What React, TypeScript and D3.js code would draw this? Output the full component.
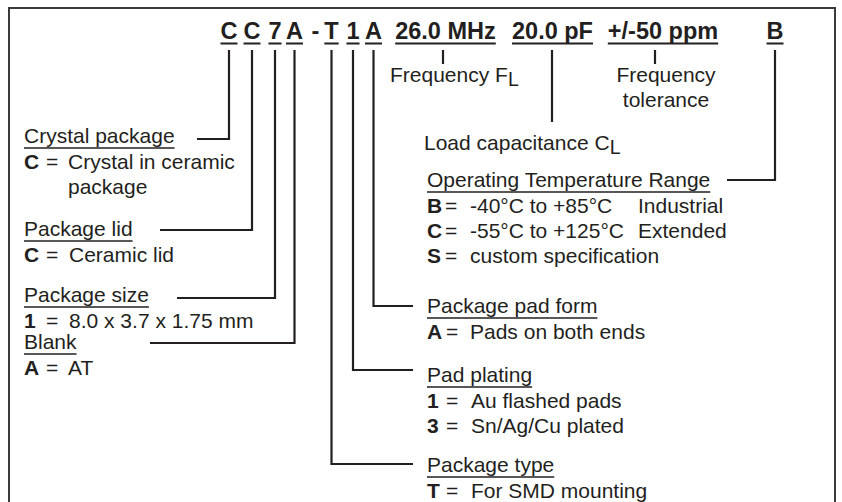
import { useEffect, useRef } from 'react'
import * as d3 from 'd3'

const W = 842, H = 502
const FONT = '"Liberation Sans", Arial, Helvetica, sans-serif'
const INK = '#231f20'
const FS = 21

// part number tokens across the top
const HEADER_CODES = ['C', 'C', '7', 'A', '-', 'T', '1', 'A', '26.0 MHz', '20.0 pF', '+/-50 ppm', 'B']
const HEADER_X = [229, 252, 275, 294.5, 315.5, 331.5, 353, 373.5, 445.5, 552.5, 663, 775]

// fields explained with an underlined title + code rows
const FIELD_TITLES = [
  'Crystal package', 'Package lid', 'Package size', 'Blank',
  'Package pad form', 'Pad plating', 'Package type', 'Operating Temperature Range',
]
const FIELD_ROWS: string[][][] = [
  [['C', 'Crystal in ceramic'], ['', 'package']],
  [['C', 'Ceramic lid']],
  [['1', '8.0 x 3.7 x 1.75 mm']],
  [['A', 'AT']],
  [['A', 'Pads on both ends']],
  [['1', 'Au flashed pads'], ['3', 'Sn/Ag/Cu plated']],
  [['T', 'For SMD mounting']],
  [['B', '-40°C to +85°C', 'Industrial'], ['C', '-55°C to +125°C', 'Extended'], ['S', 'custom specification']],
]
const FIELD_CODE = [0, 1, 2, 3, 7, 6, 5, 11]

// layout of each field block (title baseline, columns, connector elbow)
const FIELD_LAYOUT = [
  { x: 24, y: 143, eq: 46, val: 68, col3: 0, elbowY: 139, endX: 197 },
  { x: 24, y: 236, eq: 46, val: 69, col3: 0, elbowY: 230, endX: 160 },
  { x: 24, y: 302, eq: 46, val: 69, col3: 0, elbowY: 298, endX: 177 },
  { x: 24, y: 349, eq: 46, val: 68, col3: 0, elbowY: 343, endX: 150 },
  { x: 427, y: 313, eq: 446, val: 470, col3: 0, elbowY: 306, endX: 413 },
  { x: 427, y: 382, eq: 446, val: 471, col3: 0, elbowY: 370, endX: 413 },
  { x: 427, y: 472, eq: 446, val: 471, col3: 0, elbowY: 464, endX: 413 },
  { x: 427, y: 187, eq: 445, val: 470, col3: 638, elbowY: 180, endX: 727 },
]

// short pointers for the numeric fields
const POINTER_X = [443, 552, 655]
const POINTER_END = [64, 122, 64]

export default function App() {
  const ref = useRef<SVGSVGElement>(null)

  useEffect(() => {
    const svg = d3.select(ref.current)
    svg.selectAll('*').remove()

    // frame (bottom edge runs off the picture)
    svg.append('path')
      .attr('d', `M9,${H + 5} V8 H835 V${H + 5}`)
      .attr('fill', 'none').attr('stroke', '#3a3a3a').attr('stroke-width', 2)

    const g = svg.append('g').attr('font-family', FONT).attr('fill', INK)

    // header codes with underlines
    HEADER_CODES.forEach((code, i) => {
      const t = g.append('text')
        .attr('x', HEADER_X[i]).attr('y', 39)
        .attr('text-anchor', 'middle')
        .attr('font-size', 23.5).attr('font-weight', 'bold')
        .text(code)
      if (code === '-') return
      const w = (t.node() as SVGTextElement).getComputedTextLength()
      g.append('line')
        .attr('x1', HEADER_X[i] - w / 2).attr('x2', HEADER_X[i] + w / 2)
        .attr('y1', 43.5).attr('y2', 43.5)
        .attr('stroke', INK).attr('stroke-width', 2)
    })

    const lines = svg.append('g').attr('fill', 'none').attr('stroke', INK).attr('stroke-width', 2.2)

    // field blocks + elbow connectors
    FIELD_TITLES.forEach((title, i) => {
      const L = FIELD_LAYOUT[i]
      const t = g.append('text')
        .attr('x', L.x).attr('y', L.y).attr('font-size', FS)
        .text(title)
      const w = (t.node() as SVGTextElement).getComputedTextLength()
      g.append('line')
        .attr('x1', L.x).attr('x2', L.x + w)
        .attr('y1', L.y + 5).attr('y2', L.y + 5)
        .attr('stroke', INK).attr('stroke-width', 1.6)

      FIELD_ROWS[i].forEach((row, r) => {
        const y = L.y + 26 + r * 25
        if (row[0]) {
          g.append('text').attr('x', L.x).attr('y', y)
            .attr('font-size', FS).attr('font-weight', 'bold').text(row[0])
          g.append('text').attr('x', L.eq).attr('y', y)
            .attr('font-size', FS).text('=')
        }
        g.append('text').attr('x', L.val).attr('y', y)
          .attr('font-size', FS).text(row[1])
        if (row[2]) {
          g.append('text').attr('x', L.col3).attr('y', y)
            .attr('font-size', FS).text(row[2])
        }
      })

      const cx = HEADER_X[FIELD_CODE[i]]
      lines.append('path')
        .attr('d', `M${cx},50 V${L.elbowY} H${L.endX}`)
    })

    // short pointers for frequency, load capacitance, tolerance
    POINTER_X.forEach((x, i) => {
      lines.append('line')
        .attr('x1', x).attr('x2', x).attr('y1', 50).attr('y2', POINTER_END[i])
    })

    const freq = g.append('text').attr('x', 390).attr('y', 82).attr('font-size', FS)
    freq.append('tspan').text('Frequency F')
    freq.append('tspan').attr('dy', 4).attr('font-size', 19.5).text('L')

    g.append('text').attr('x', 666).attr('y', 82).attr('font-size', FS)
      .attr('text-anchor', 'middle').text('Frequency')
    g.append('text').attr('x', 666).attr('y', 107).attr('font-size', FS)
      .attr('text-anchor', 'middle').text('tolerance')

    const load = g.append('text').attr('x', 424).attr('y', 150).attr('font-size', FS)
    load.append('tspan').text('Load capacitance C')
    load.append('tspan').attr('dy', 4).attr('font-size', 19.5).text('L')
  }, [])

  return (
    <svg ref={ref} width={W} height={H} viewBox={`0 0 ${W} ${H}`}
      style={{ position: 'absolute', left: 0, top: 0, background: '#fff' }} />
  )
}
